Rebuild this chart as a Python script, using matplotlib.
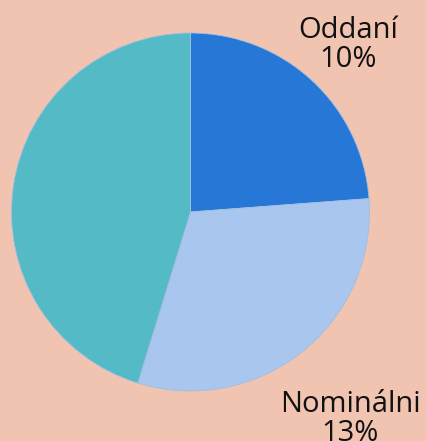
import matplotlib
matplotlib.use("Agg")
import matplotlib.pyplot as plt

categories = ["Oddaní", "Nominálni", "Ostatní"]
values = [10, 13, 19]
colors = ["#2778d6", "#a9c6ee", "#54bac6"]
bg = "#f1c4b1"

W, H = 427, 441
fig = plt.figure(figsize=(W / 100, H / 100), dpi=100)
fig.patch.set_facecolor(bg)

cx, cy, r = 190.5, 212, 179
ax = fig.add_axes([(cx - r) / W, (H - cy - r) / H, 2 * r / W, 2 * r / H])
ax.set_facecolor(bg)
ax.pie(values, colors=colors, startangle=90, counterclock=False, radius=1,
       wedgeprops=dict(linewidth=0.6, edgecolor="#9fbfe0"))
ax.set_xlim(-1, 1)
ax.set_ylim(-1, 1)
ax.set_aspect("equal")
ax.axis("off")

label_pos = [(348.5, 45), (350.5, 419)]
for (px, py), name, v in zip(label_pos, categories[:2], values[:2]):
    fig.text(px / W, 1 - py / H, f"{name}\n{v}%", ha="center", va="center",
             fontsize=21, family="Open Sans", color="#111111", linespacing=1.0)

fig.savefig("out.png", dpi=100, facecolor=bg)
